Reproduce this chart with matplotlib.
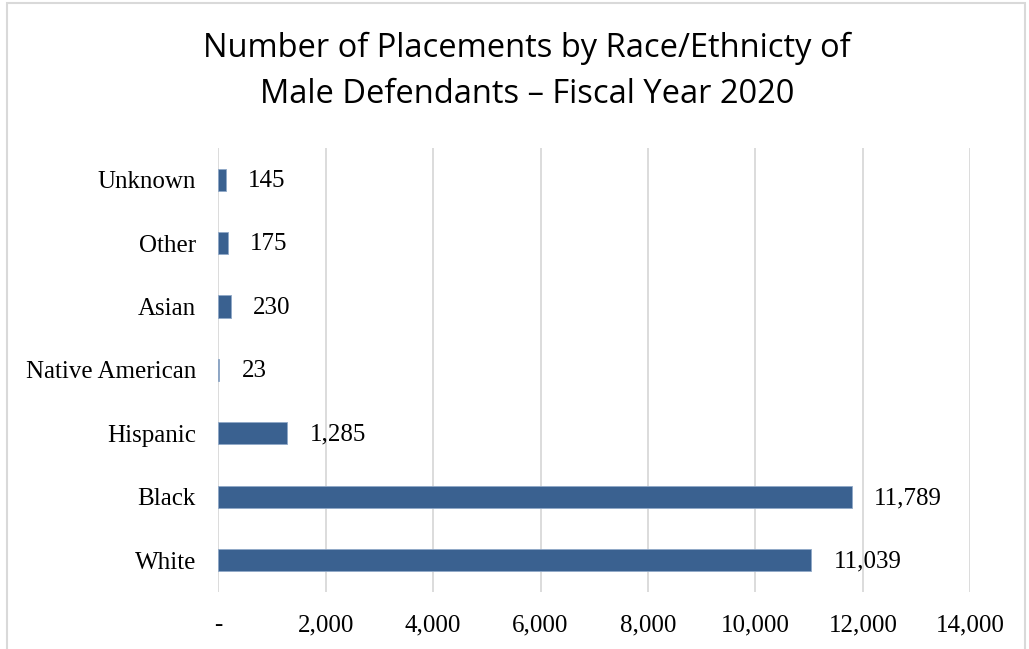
import matplotlib.pyplot as plt
from matplotlib.patches import Rectangle
from matplotlib.ticker import FuncFormatter

# data (bottom to top)
categories = ['White', 'Black', 'Hispanic', 'Native American', 'Asian', 'Other', 'Unknown']
placements = [11039, 11789, 1285, 23, 230, 175, 145]
x_ticks = [0, 2000, 4000, 6000, 8000, 10000, 12000, 14000]

bar_color = '#3A6190'
serif = 'Liberation Serif'

fig = plt.figure(figsize=(10.29, 6.49), dpi=100)
ax = fig.add_axes([0.212, 0.088, 0.731, 0.684])

# light grey frame round the chart (bottom edge falls outside the image)
fig.patches.append(Rectangle((7 / 1029, -0.05), 1018 / 1029, 1.05 - 3 / 649,
                             transform=fig.transFigure, fill=False,
                             edgecolor='#D9D9D9', linewidth=1.5))

ax.barh(range(len(categories)), placements, height=0.35, color=bar_color,
        edgecolor='#8FA8C8', linewidth=0.6, zorder=3)

for i, v in enumerate(placements):
    ax.annotate(f'{v:,}', (v, i), xytext=(16, -1), textcoords='offset points',
                va='center', ha='left', fontsize=18, family=serif)

ax.set_xlim(0, 14000)
ax.set_ylim(-0.5, len(categories) - 0.5)
ax.set_xticks(x_ticks)
ax.xaxis.set_major_formatter(FuncFormatter(lambda v, p: '-' if v == 0 else f'{int(v):,}'))
ax.set_yticks(range(len(categories)))
ax.set_yticklabels(categories)
ax.grid(axis='x', color='#D9D9D9', linewidth=1.3, zorder=0)
for s in ax.spines.values():
    s.set_visible(False)
ax.tick_params(length=0, labelsize=18)
for lbl in ax.get_xticklabels() + ax.get_yticklabels():
    lbl.set_family(serif)
ax.tick_params(axis='x', pad=16)
ax.tick_params(axis='y', pad=16)

fig.text(0.512, 0.89, 'Number of Placements by Race/Ethnicty of\nMale Defendants \u2013 Fiscal Year 2020',
         ha='center', va='center', fontsize=23.5, family='Open Sans', linespacing=1.55)

fig.savefig('out.png', dpi=100)
